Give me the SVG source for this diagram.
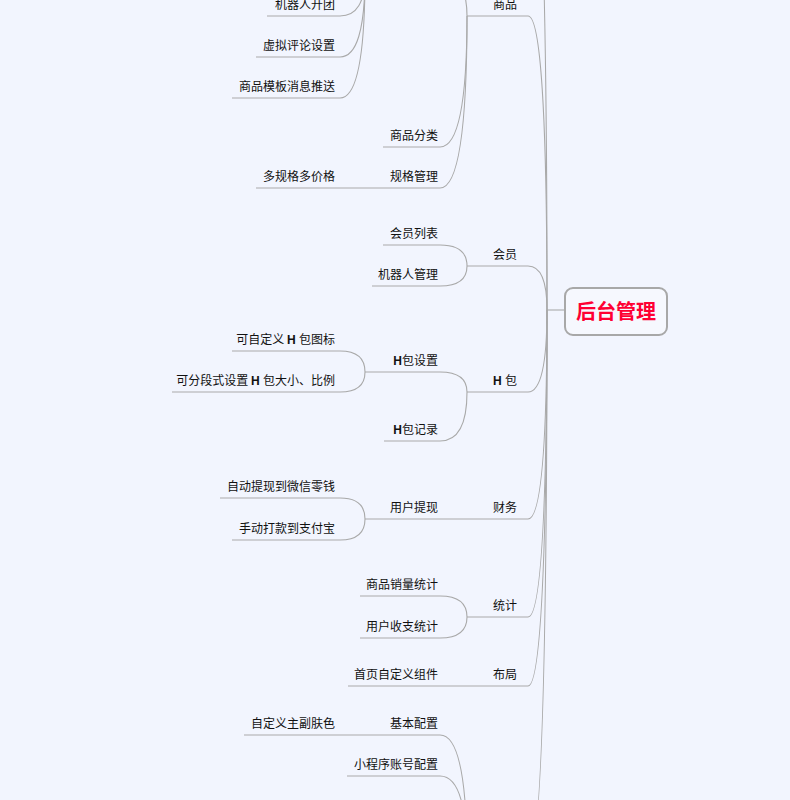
<svg xmlns="http://www.w3.org/2000/svg" width="790" height="800" viewBox="0 0 790 800">
<style>
.bg{fill:#f2f5fe}
.ln{fill:none;stroke:#a9a9a9;stroke-width:1.1}
.t{font-family:"Noto Sans CJK SC","Noto Sans",sans-serif;font-size:12px;fill:#111;text-anchor:end}
.h{font-family:"Liberation Sans",sans-serif;font-weight:bold}
.root{font-family:"Noto Sans CJK SC",sans-serif;font-size:20px;font-weight:bold;fill:#ff0033;text-anchor:middle}
</style>
<rect class="bg" x="0" y="0" width="790" height="800"/>
<g id="connectors" class="ln">
  <path d="M547,310 H565"/>
  <path d="M547,310 Q547,-200 528,-200"/>
  <path d="M547,310 Q547,16 528,16"/>
  <path d="M547,310 Q547,266 528,266"/>
  <path d="M547,310 Q547,392 528,392"/>
  <path d="M547,310 Q547,519 528,519"/>
  <path d="M547,310 Q547,617 528,617"/>
  <path d="M547,310 Q547,686 528,686"/>
  <path d="M547,310 Q547,860 528,860"/>
  <path d="M467,16 Q467,-25 440,-25"/>
  <path d="M467,16 Q467,147 440,147"/>
  <path d="M467,16 Q467,188 440,188"/>
  <path d="M467,266 Q467,245 440,245"/>
  <path d="M467,266 Q467,286 440,286"/>
  <path d="M467,392 Q467,372 440,372"/>
  <path d="M467,392 Q467,441 440,441"/>
  <path d="M467,617 Q467,596 440,596"/>
  <path d="M467,617 Q467,638 440,638"/>
  <path d="M467,860 Q467,735 440,735"/>
  <path d="M467,860 Q467,776 440,776"/>
  <path d="M365,-25 Q365,16 340,16"/>
  <path d="M365,-25 Q365,57 340,57"/>
  <path d="M365,-25 Q365,98 340,98"/>
  <path d="M365,372 Q365,351 340,351"/>
  <path d="M365,372 Q365,392 340,392"/>
  <path d="M365,519 Q365,498 340,498"/>
  <path d="M365,519 Q365,540 340,540"/>
</g>
<g id="root">
  <rect x="565" y="288" width="102" height="47" rx="8" fill="#f6f8fe" stroke="#a8a8a8" stroke-width="2"/>
  <text class="root" x="616" y="319">后台管理</text>
</g>
<g id="n-shangpin"><path class="ln" d="M467,16 H528"/><text class="t" x="517" y="9">商品</text></g>
<g id="n-huiyuan"><path class="ln" d="M467,266 H528"/><text class="t" x="517" y="259">会员</text></g>
<g id="n-hbao"><path class="ln" d="M467,392 H528"/><text class="t" x="517" y="385"><tspan class="h">H </tspan>包</text></g>
<g id="n-caiwu"><path class="ln" d="M440,519 H528"/><text class="t" x="517" y="512">财务</text></g>
<g id="n-tongji"><path class="ln" d="M467,617 H528"/><text class="t" x="517" y="610">统计</text></g>
<g id="n-buju"><path class="ln" d="M440,686 H528"/><text class="t" x="517" y="679">布局</text></g>
<g id="n-bottom"><path class="ln" d="M467,860 H528"/></g>
<g id="n-p"><path class="ln" d="M365,-25 H440"/></g>
<g id="n-fenlei"><path class="ln" d="M383,147 H440"/><text class="t" x="438" y="140">商品分类</text></g>
<g id="n-guige"><path class="ln" d="M340,188 H440"/><text class="t" x="438" y="181">规格管理</text></g>
<g id="n-huiyuanlb"><path class="ln" d="M383,245 H440"/><text class="t" x="438" y="238">会员列表</text></g>
<g id="n-jqrgl"><path class="ln" d="M372,286 H440"/><text class="t" x="438" y="279">机器人管理</text></g>
<g id="n-hbsz"><path class="ln" d="M365,372 H440"/><text class="t" x="438" y="365"><tspan class="h">H</tspan>包设置</text></g>
<g id="n-hbjl"><path class="ln" d="M384,441 H440"/><text class="t" x="438" y="434"><tspan class="h">H</tspan>包记录</text></g>
<g id="n-yhtx"><path class="ln" d="M365,519 H440"/><text class="t" x="438" y="512">用户提现</text></g>
<g id="n-spxl"><path class="ln" d="M360,596 H440"/><text class="t" x="438" y="589">商品销量统计</text></g>
<g id="n-yhsz"><path class="ln" d="M360,638 H440"/><text class="t" x="438" y="631">用户收支统计</text></g>
<g id="n-sywzj"><path class="ln" d="M348,686 H440"/><text class="t" x="438" y="679">首页自定义组件</text></g>
<g id="n-jbpz"><path class="ln" d="M340,735 H440"/><text class="t" x="438" y="728">基本配置</text></g>
<g id="n-xcx"><path class="ln" d="M347,776 H440"/><text class="t" x="438" y="769">小程序账号配置</text></g>
<g id="n-jqrkt"><path class="ln" d="M267,16 H340"/><text class="t" x="335" y="9">机器人开团</text></g>
<g id="n-xnpl"><path class="ln" d="M256,57 H340"/><text class="t" x="335" y="50">虚拟评论设置</text></g>
<g id="n-spmb"><path class="ln" d="M232,98 H340"/><text class="t" x="335" y="91">商品模板消息推送</text></g>
<g id="n-dgg"><path class="ln" d="M256,188 H340"/><text class="t" x="335" y="181">多规格多价格</text></g>
<g id="n-zdy"><path class="ln" d="M232,351 H340"/><text class="t" x="335" y="344">可自定义 <tspan class="h">H </tspan>包图标</text></g>
<g id="n-fdsz"><path class="ln" d="M172,392 H340"/><text class="t" x="335" y="385">可分段式设置 <tspan class="h">H </tspan>包大小、比例</text></g>
<g id="n-zdtx"><path class="ln" d="M220,498 H340"/><text class="t" x="335" y="491">自动提现到微信零钱</text></g>
<g id="n-sddk"><path class="ln" d="M232,540 H340"/><text class="t" x="335" y="533">手动打款到支付宝</text></g>
<g id="n-zdyfs"><path class="ln" d="M244,735 H340"/><text class="t" x="335" y="728">自定义主副肤色</text></g>
</svg>
